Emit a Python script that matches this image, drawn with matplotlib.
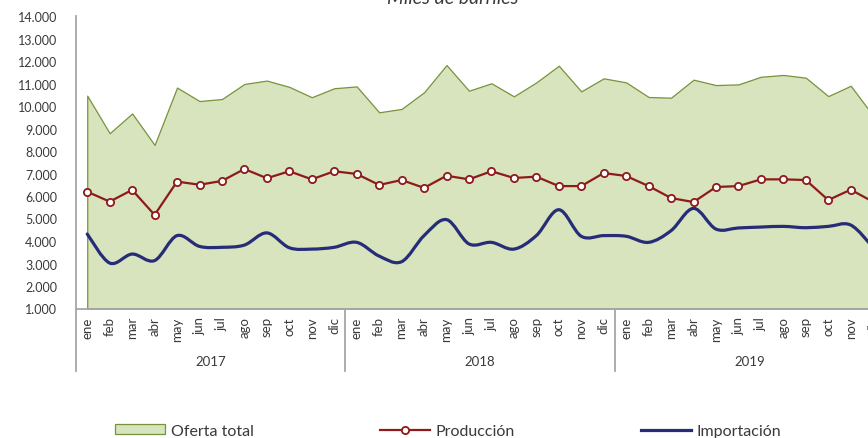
import matplotlib
matplotlib.use('Agg')
import matplotlib.pyplot as plt
from matplotlib.path import Path
from matplotlib.patches import PathPatch, Patch
from matplotlib.lines import Line2D
import numpy as np

plt.rcParams['font.family'] = ['Lato', 'DejaVu Sans']

meses = ['ene', 'feb', 'mar', 'abr', 'may', 'jun', 'jul', 'ago', 'sep', 'oct', 'nov', 'dic']
anios = ['2017', '2018', '2019']

# miles de barriles, ene 2017 - dic 2019
oferta_total = [10460, 8790, 9670, 8270, 10820, 10220, 10310, 10980, 11130, 10850, 10390, 10790,
                10870, 9720, 9870, 10610, 11820, 10680, 11010, 10430, 11050, 11790, 10650, 11230,
                11050, 10400, 10370, 11170, 10930, 10960, 11300, 11380, 11260, 10440, 10900, 9570]
produccion = [6190, 5750, 6270, 5160, 6640, 6500, 6670, 7200, 6790, 7100, 6740, 7100,
              6980, 6490, 6710, 6360, 6900, 6740, 7100, 6800, 6860, 6440, 6440, 7020,
              6890, 6440, 5910, 5730, 6400, 6440, 6740, 6740, 6710, 5820, 6280, 5740]
importacion = [4310, 3020, 3420, 3130, 4240, 3760, 3720, 3820, 4360, 3700, 3640, 3720,
               3940, 3330, 3080, 4240, 4950, 3870, 3940, 3640, 4240, 5390, 4210, 4240,
               4210, 3940, 4460, 5450, 4530, 4580, 4620, 4650, 4590, 4650, 4710, 3710]

VERDE = '#d7e4bd'
VERDE_BORDE = '#77933c'
ROJO = '#8e1b1b'
AZUL = '#262c78'
GRIS = '#a6a6a6'
TEXTO = '#3a3a3a'


def smooth_path(x, y):
    """Bezier through the points, like Excel's smoothed line."""
    x = np.asarray(x, float)
    y = np.asarray(y, float)
    n = len(x)
    verts = [(x[0], y[0])]
    codes = [Path.MOVETO]
    for i in range(n - 1):
        i0 = max(i - 1, 0)
        i3 = min(i + 2, n - 1)
        c1 = (x[i] + (x[i + 1] - x[i0]) / 6, y[i] + (y[i + 1] - y[i0]) / 6)
        c2 = (x[i + 1] - (x[i3] - x[i]) / 6, y[i + 1] - (y[i3] - y[i]) / 6)
        verts += [c1, c2, (x[i + 1], y[i + 1])]
        codes += [Path.CURVE4] * 3
    return Path(verts, codes)


fig = plt.figure(figsize=(8.68, 4.39), dpi=100)
# the chart runs a bit past the right edge of the picture
ax = fig.add_axes([76 / 868, 1 - 309.5 / 439, 808.4 / 868, 292.5 / 439])

x = np.arange(len(oferta_total))
ax.fill_between(x, 1000, oferta_total, facecolor=VERDE, edgecolor=VERDE_BORDE, linewidth=0.9, zorder=1)
ax.plot(x, produccion, color=ROJO, linewidth=1.6, marker='o', markersize=5.2,
        markerfacecolor='white', markeredgecolor=ROJO, markeredgewidth=1.3, zorder=4)
ax.add_patch(PathPatch(smooth_path(x, importacion), facecolor='none', edgecolor=AZUL,
                       linewidth=2.3, zorder=3, capstyle='round'))

ax.set_xlim(-0.5, len(x) - 0.5)
ax.set_ylim(1000, 14000)
yt = np.arange(1000, 14001, 1000)
ax.set_yticks(yt, [f'{v:,}'.replace(',', '.') for v in yt])
ax.tick_params(axis='y', length=0, pad=13.5, labelsize=9, labelcolor=TEXTO)

ax.set_xticks(x, meses * len(anios), rotation=90)
ax.tick_params(axis='x', length=0, pad=5.5, labelsize=9.5, labelcolor=TEXTO)

for s in ['top', 'right']:
    ax.spines[s].set_visible(False)
for s in ['left', 'bottom']:
    ax.spines[s].set_color(GRIS)
    ax.spines[s].set_linewidth(1.3)

# year level of the category axis
tr = ax.get_xaxis_transform()
baja = -62.5 / 292.5
for k, anio in enumerate(anios):
    ax.plot([k * 12 - 0.5] * 2, [0, baja], transform=tr, color=GRIS, linewidth=1.3, clip_on=False)
    ax.text(k * 12 + 5.5, -53 / 292.5, anio, transform=tr, ha='center', va='center',
            fontsize=9.5, color=TEXTO)

fig.text(452.5 / 868, 1 - 4 / 439, 'Miles de barriles', ha='center', va='baseline',
         style='italic', fontsize=14, color=TEXTO)

entradas = [
    (Patch(facecolor=VERDE, edgecolor=VERDE_BORDE, linewidth=0.9), 'Oferta total', 115),
    (Line2D([], [], color=ROJO, linewidth=1.6, marker='o', markersize=5.2, markerfacecolor='white',
            markeredgecolor=ROJO, markeredgewidth=1.3), 'Producción', 380),
    (Line2D([], [], color=AZUL, linewidth=2.3), 'Importación', 641),
]
for h, lab, px in entradas:
    fig.legend(handles=[h], labels=[lab], loc='center left', bbox_to_anchor=(px / 868, 1 - 432 / 439),
               frameon=False, borderpad=0, borderaxespad=0, handlelength=3.1, handletextpad=0.4,
               handleheight=0.6, fontsize=11.5, labelcolor=TEXTO)

fig.savefig('out.png', dpi=100)
